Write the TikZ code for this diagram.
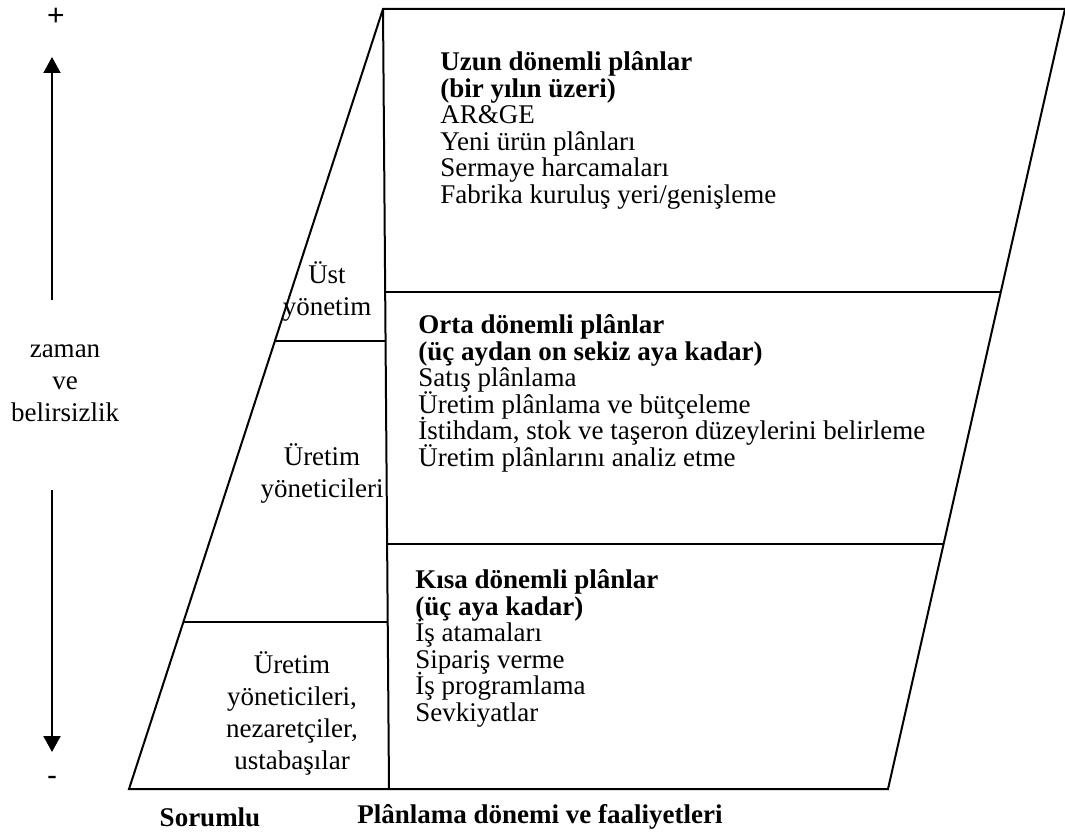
\documentclass[tikz,border=0pt]{standalone}
\usepackage{fontspec}
\setmainfont{Liberation Serif}
\newfontfamily\signfont{Liberation Sans}
\usetikzlibrary{arrows.meta}
\newcommand\evenlines{\lineskiplimit=-20pt\relax}
\tikzset{
  plan/.style={anchor=north west, align=left, inner sep=0pt, font=\fontsize{13.5}{13.3}\selectfont\evenlines},
  who/.style={align=center, inner sep=0pt, font=\fontsize{13.5}{16}\selectfont\evenlines},
  frame/.style={line width=1pt, draw=black},
  timearrow/.style={line width=1pt, -{Triangle[length=8pt,width=8.5pt]}}
}
\begin{document}
\begin{tikzpicture}[x=0.5pt, y=-0.5pt]
\useasboundingbox (0,0) rectangle (1065,834);
% corners of the frame
\coordinate (TL) at (383,9);
\coordinate (TR) at (1065,9);
\coordinate (BR) at (888,789);
\coordinate (BL) at (129,789);
\coordinate (VB) at (389,789);
% dividers
\coordinate (L1) at (274.9,341);
\coordinate (M1) at (385.6,341);
\coordinate (M2) at (385.2,292);
\coordinate (R2) at (1000.8,292);
\coordinate (M3) at (387.1,544);
\coordinate (R3) at (943.6,544);
\coordinate (L4) at (183.4,622);
\coordinate (M4) at (387.7,622);
\draw[frame] (TL) -- (TR) -- (BR) -- (BL) -- cycle;
\draw[frame] (TL) -- (VB);
\draw[frame] (L1) -- (M1);
\draw[frame] (M2) -- (R2);
\draw[frame] (M3) -- (R3);
\draw[frame] (L4) -- (M4);
% plans
\node[plan] (long) at (440,51) {\textbf{Uzun dönemli plânlar}\\\textbf{(bir yılın üzeri)}\\AR\&GE\\Yeni ürün plânları\\Sermaye harcamaları\\Fabrika kuruluş yeri/genişleme};
\node[plan] (mid) at (418,314) {\textbf{Orta dönemli plânlar}\\\textbf{(üç aydan on sekiz aya kadar)}\\Satış plânlama\\Üretim plânlama ve bütçeleme\\İstihdam, stok ve taşeron düzeylerini belirleme\\Üretim plânlarını analiz etme};
\node[plan] (short) at (415,569) {\textbf{Kısa dönemli plânlar}\\\textbf{(üç aya kadar)}\\İş atamaları\\Sipariş verme\\İş programlama\\Sevkiyatlar};
% responsible
\node[who] (top) at (327,291) {Üst\\yönetim};
\node[who] (prod) at (322,473) {Üretim\\yöneticileri};
\node[who] (floor) at (292,713) {Üretim\\yöneticileri,\\nezaretçiler,\\ustabaşılar};
% time axis
\node[who] (time) at (65,383) {zaman\\ve\\belirsizlik};
\node[who, font=\signfont\fontsize{15}{16}\selectfont] (plus) at (56,17) {+};
\node[who, font=\signfont\fontsize{15}{16}\selectfont] (minus) at (52,781) {-};
\coordinate (upS) at (52,300);
\coordinate (upT) at (52,57);
\coordinate (dnS) at (52,490);
\coordinate (dnT) at (52,752);
\draw[timearrow] (upS) -- (upT);
\draw[timearrow] (dnS) -- (dnT);
% captions
\node[who, font=\fontsize{13.5}{16}\selectfont\bfseries] (cap1) at (210,817) {Sorumlu};
\node[who, font=\fontsize{13.5}{16}\selectfont\bfseries] (cap2) at (540,817) {Plânlama dönemi ve faaliyetleri};
\end{tikzpicture}
\end{document}
